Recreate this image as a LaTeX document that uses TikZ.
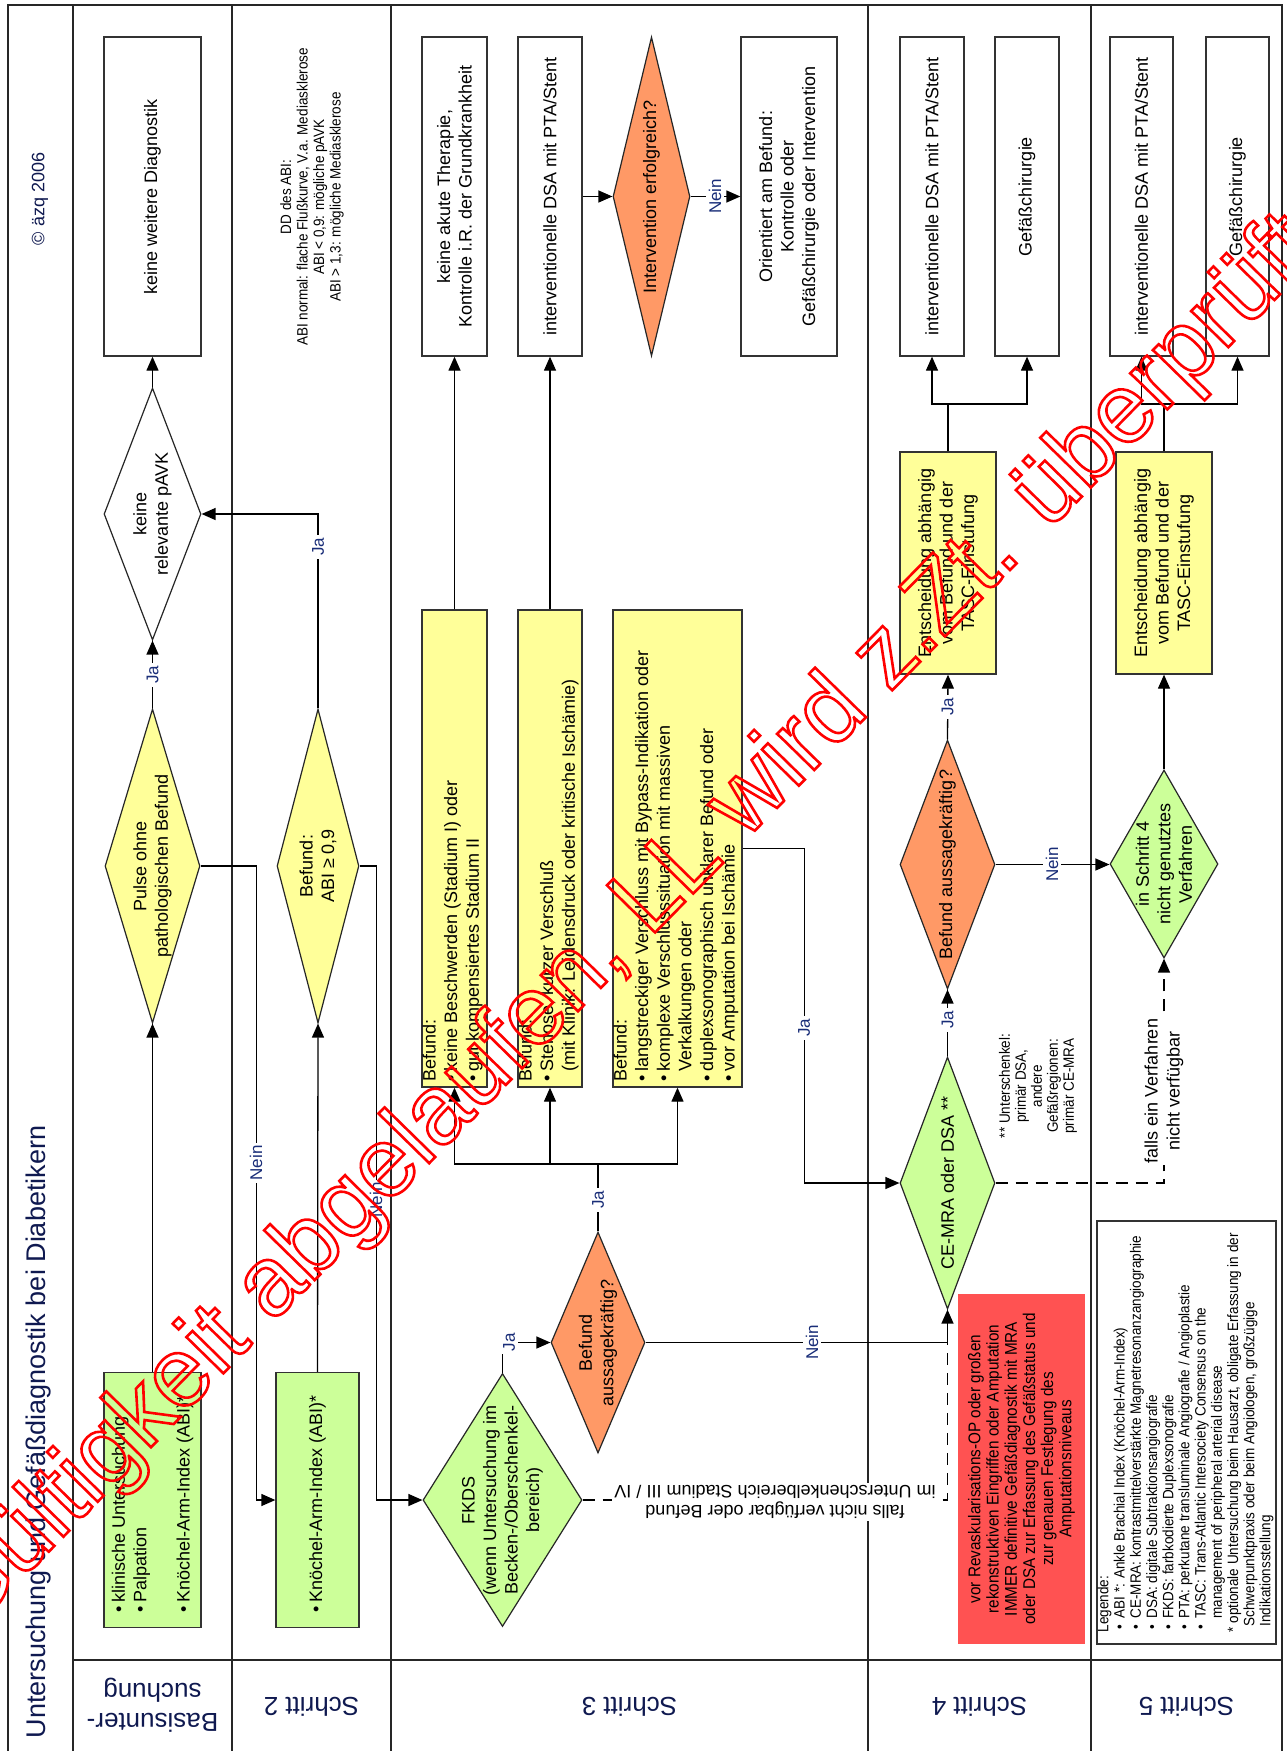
\documentclass[tikz,border=0pt]{standalone}
\usepackage{fontspec}
\setmainfont{Liberation Sans}
\newfontfamily\nar[FakeStretch=0.9]{Liberation Sans}
\usetikzlibrary{shapes.geometric,arrows.meta,calc}
\definecolor{yel}{RGB}{255,255,153}
\definecolor{grn}{RGB}{204,255,153}
\definecolor{org}{RGB}{255,153,102}
\definecolor{redb}{RGB}{255,82,82}
\definecolor{navy}{RGB}{25,45,120}
\definecolor{navytwo}{RGB}{15,25,80}
\newcommand\fsz[2]{\fontsize{#1pt}{#2pt}\selectfont}
\newcommand\bulx{\makebox[10pt][l]{\textbullet}}
\newcommand\indt{\hspace*{10pt}}
\newcommand\lbul{\hspace*{3pt}\makebox[11pt][l]{\textbullet}}
\newcommand\outl[1]{\special{pdf:literal direct 1 Tr 2.6 w}#1\special{pdf:literal direct 0 Tr}}
\begin{document}
\begin{tikzpicture}[x=1pt,y=-1pt,
 lane/.style={draw=black!85, line width=1.8pt},
 bx/.style={rectangle, draw=black!80, line width=1.3pt, inner sep=0pt, fill=white},
 dia/.style={diamond, draw=black!85, line width=1.2pt, inner sep=0pt},
 txt/.style={rotate=90, align=center, inner sep=0pt, font=\fsz{18}{21.5}},
 ltxt/.style={rotate=90, align=left, inner sep=0pt, font=\fsz{18}{21.6}},
 yn/.style={rotate=90, fill=white, inner sep=3pt, text=navy, font=\fsz{17}{20}},
 arr/.style={draw=black, line width=1.3pt, -{Triangle[length=14pt,width=12pt]}},
 con/.style={draw=black, line width=1.3pt},
 dsh/.style={con, dash pattern=on 12pt off 8pt},
 lanelab/.style={rotate=180, align=center, text=navytwo, font=\fsz{26}{30}}]
\useasboundingbox (0,0) rectangle (1287,1751);
\fill[white] (0,0) rectangle (1287,1751);
% frame and lanes
\draw[lane] (8,1751) -- (8,5) -- (1282,5) -- (1282,1751);
\foreach \x in {73,232,391,868,1091} {\draw[lane] (\x,5) -- (\x,1751);}
\draw[lane] (73,1660) -- (1282,1660);
% title column
\node[rotate=90, text=navytwo, font=\fsz{27}{30}] (title) at (39,1432) {Untersuchung und Gefäßdiagnostik bei Diabetikern};
\node[rotate=90, text=navytwo, font=\fsz{18}{21}] (copy) at (40,199) {© äzq 2006};
% lane labels
\node[lanelab] (lab1) at (152.5,1705) {Basisunter-\\suchung};
\node[lanelab] (lab2) at (311.5,1707) {Schritt 2};
\node[lanelab] (lab3) at (629.5,1707) {Schritt 3};
\node[lanelab] (lab4) at (979.5,1707) {Schritt 4};
\node[lanelab] (lab5) at (1186.5,1707) {Schritt 5};
% Basisuntersuchung
\node[bx, minimum width=97pt, minimum height=319pt] (kwd) at (152.5,196.5) {};
\node[txt] (tkwd) at (kwd) {keine weitere Diagnostik};
\node[dia, fill=white, minimum width=97pt, minimum height=252pt] (pavk) at (152.5,514) {};
\node[txt] (tpavk) at (pavk) {keine\\relevante pAVK};
\node[dia, fill=yel, minimum width=95pt, minimum height=314pt] (pulse) at (152.5,866) {};
\node[txt] (tpulse) at (pulse) {Pulse ohne\\pathologischen Befund};
\node[bx, fill=grn, minimum width=97pt, minimum height=255pt] (basis) at (152.5,1500) {};
\node[ltxt, anchor=west] (tbasis) at ($(basis.south)+(0,-15)$) {\bulx klinische Untersuchung\\\bulx Palpation\\[21.5pt]\bulx Knöchel-Arm-Index (ABI)*};
% Schritt 2
\node[rotate=90, align=center, font=\nar\fsz{15}{16.5}] (dd) at (312,197) {DD des ABI:\\ABI normal: flache Flußkurve, V.a. Mediasklerose\\ABI < 0,9: mögliche pAVK\\ABI > 1,3: mögliche Mediasklerose};
\node[dia, fill=yel, minimum width=82pt, minimum height=314pt] (abid) at (318,866) {};
\node[txt] (tabid) at (abid) {Befund:\\ABI ≥ 0,9};
\node[bx, fill=grn, minimum width=83pt, minimum height=255pt] (abib) at (317.5,1500) {};
\node[ltxt, anchor=west] (tabib) at ($(abib.south)+(0,-15)$) {\bulx Knöchel-Arm-Index (ABI)*};
% Schritt 3
\node[dia, fill=grn, minimum width=159pt, minimum height=253pt] (fkds) at (502.5,1500) {};
\node[txt] (tfkds) at (fkds) {FKDS\\(wenn Untersuchung im\\Becken-/Oberschenkel-\\bereich)};
\node[dia, fill=org, minimum width=94pt, minimum height=221pt] (ba3) at (598,1342.5) {};
\node[txt] (tba3) at (ba3) {Befund\\aussagekräftig?};
\node[bx, fill=yel, minimum width=65pt, minimum height=477pt] (yb1) at (454.5,848.5) {};
\node[ltxt, anchor=north west] (tyb1) at ($(yb1.south west)+(1,-6)$) {Befund:\\\bulx keine Beschwerden (Stadium I) oder\\\bulx gut kompensiertes Stadium II};
\node[bx, fill=yel, minimum width=64pt, minimum height=477pt] (yb2) at (550,848.5) {};
\node[ltxt, anchor=north west] (tyb2) at ($(yb2.south west)+(1,-6)$) {Befund:\\\bulx Stenose, kurzer Verschluß\\\indt(mit Klinik: Leidensdruck oder kritische Ischämie)};
\node[bx, fill=yel, minimum width=129pt, minimum height=477pt] (yb3) at (677.5,848.5) {};
\node[ltxt, anchor=north west] (tyb3) at ($(yb3.south west)+(1,-6)$) {Befund:\\\bulx langstreckiger Verschluss mit Bypass-Indikation oder\\\bulx komplexe Verschlusssituation mit massiven\\\indt Verkalkungen oder\\\bulx duplexsonographisch unklarer Befund oder\\\bulx vor Amputation bei Ischämie};
\node[bx, minimum width=65pt, minimum height=319pt] (wb1) at (454.5,196.5) {};
\node[txt] (twb1) at (wb1) {keine akute Therapie,\\Kontrolle i.R. der Grundkrankheit};
\node[bx, minimum width=64pt, minimum height=319pt] (wb2) at (550,196.5) {};
\node[txt] (twb2) at (wb2) {interventionelle DSA mit PTA/Stent};
\node[dia, fill=org, minimum width=77pt, minimum height=319pt] (ie) at (651.5,196.5) {};
\node[txt] (tie) at (ie) {Intervention erfolgreich?};
\node[bx, minimum width=96pt, minimum height=319pt] (ob) at (789,196.5) {};
\node[txt] (tob) at (ob) {Orientiert am Befund:\\Kontrolle oder\\Gefäßchirurgie oder Intervention};
% Schritt 4
\node[dia, fill=grn, minimum width=95pt, minimum height=252pt] (cemra) at (947.5,1183) {};
\node[txt] (tcemra) at (cemra) {CE-MRA oder DSA **};
\node[dia, fill=org, minimum width=95pt, minimum height=249pt] (ba4) at (947.5,864.5) {};
\node[txt] (tba4) at (ba4) {Befund aussagekräftig?};
\node[bx, fill=yel, minimum width=96pt, minimum height=222pt] (yb4) at (948,563) {};
\node[txt] (tyb4) at (yb4) {Entscheidung abhängig\\vom Befund und der\\TASC-Einstufung};
\node[bx, minimum width=64pt, minimum height=319pt] (w4a) at (932,196.5) {};
\node[txt] (tw4a) at (w4a) {interventionelle DSA mit PTA/Stent};
\node[bx, minimum width=64pt, minimum height=319pt] (w4b) at (1027,196.5) {};
\node[txt] (tw4b) at (w4b) {Gefäßchirurgie};
\node[rotate=90, align=center, font=\nar\fsz{15}{16}] (note) at (1038,1086) {** Unterschenkel:\\primär DSA,\\andere\\Gefäßregionen:\\primär CE-MRA};
\node[rectangle, fill=redb, minimum width=127pt, minimum height=350pt, inner sep=0pt] (red) at (1021.5,1469) {};
\node[rotate=90, align=center, font=\nar\fsz{17}{18.2}] (tred) at (red) {vor Revaskularisations-OP oder großen\\rekonstruktiven Eingriffen oder Amputation\\IMMER definitive Gefäßdiagnostik mit MRA\\oder DSA zur Erfassung des Gefäßstatus und\\zur genauen Festlegung des\\Amputationsniveaus};
% Schritt 5
\node[dia, fill=grn, minimum width=108pt, minimum height=188pt] (g5) at (1164,864) {};
\node[txt] (tg5) at (g5) {in Schritt 4\\nicht genutztes\\Verfahren};
\node[bx, fill=yel, minimum width=96pt, minimum height=222pt] (yb5) at (1164,563) {};
\node[txt] (tyb5) at (yb5) {Entscheidung abhängig\\vom Befund und der\\TASC-Einstufung};
\node[bx, minimum width=63pt, minimum height=319pt] (w5a) at (1141.5,196.5) {};
\node[txt] (tw5a) at (w5a) {interventionelle DSA mit PTA/Stent};
\node[bx, minimum width=63pt, minimum height=319pt] (w5b) at (1237.5,196.5) {};
\node[txt] (tw5b) at (w5b) {Gefäßchirurgie};
\node[bx, line width=1.2pt, minimum width=179pt, minimum height=423pt] (leg) at (1186.5,1432.5) {};
\node[rotate=90, anchor=north west, align=left, inner sep=0pt, font=\nar\fsz{15}{16.2}] (tleg) at ($(leg.south west)+(1,-12)$) {Legende:\\
\lbul ABI *: Ankle Brachial Index (Knöchel-Arm-Index)\\
\lbul CE-MRA: kontrastmittelverstärkte Magnetresonanzangiographie\\
\lbul DSA: digitale Subtraktionsangiografie\\
\lbul FKDS: farbkodierte Duplexsonografie\\
\lbul PTA: perkutane transluminale Angiografie / Angioplastie\\
\lbul TASC: Trans-Atlantic Intersociety Consensus on the\\
\hspace*{14pt}management of peripheral arterial disease\\
* optionale Untersuchung beim Hausarzt, obligate Erfassung in der\\
\hspace*{6pt}Schwerpunktpraxis oder beim Angiologen, großzügige\\
\hspace*{6pt}Indikationsstellung};
% connectors
\draw[arr] (basis.north) -- (pulse.south);
\draw[arr] (pulse.north) -- (pavk.south);
\node[yn] (l1) at (152.5,675) {Ja};
\draw[arr] (pavk.north) -- (kwd.south);
\draw[arr] (pulse.east) -- ++(56,0) |- (abib.west);
\node[yn] (l2) at (256,1163) {Nein};
\draw[arr] (abib.north) -- (abid.south);
\draw[arr] (abid.north) |- (pavk.east);
\node[yn] (l3) at (318,547) {Ja};
\draw[arr] (abid.east) -- ++(17,0) |- (fkds.west);
\node[yn] (l4) at (376,1200) {Nein};
\draw[arr] (fkds.north) |- (ba3.west);
\node[yn] (l5) at (509,1342.5) {Ja};
\coordinate (j3) at (598,1164);
\draw[con] (ba3.north) -- (j3);
\draw[arr] (j3) -| (yb1.south);
\draw[arr] (j3) -| (yb2.south);
\draw[arr] (j3) -| (yb3.south);
\node[yn] (l6) at (598,1200) {Ja};
\draw[arr] (yb1.north) -- (wb1.south);
\draw[arr] (yb2.north) -- (wb2.south);
\draw[arr] (wb2.east) -- (ie.west);
\draw[arr] (ie.east) -- (ob.west);
\node[yn] (l7) at (715,196.5) {Nein};
\draw[arr] (yb3.east) -- ++(62,0) |- (cemra.west);
\node[yn] (l8) at (804,1028) {Ja};
\draw[arr] (ba3.east) -| (cemra.south);
\node[yn] (l9) at (812,1342.5) {Nein};
\coordinate (j6) at (cemra.south |- ba3.east);
\draw[dsh] (fkds.east) -| (j6);
\node[rotate=180, fill=white, align=center, inner sep=2pt, font=\fsz{18}{20.5}] (fl1) at (775,1502) {falls nicht verfügbar oder Befund\\im Unterschenkelbereich Stadium III / IV};
\draw[arr] (cemra.north) -- (ba4.south);
\node[yn] (l10) at (947.5,1020) {Ja};
\draw[arr] (ba4.north) -- (yb4.south);
\node[yn] (l11) at (947.5,707) {Ja};
\coordinate (j4) at (948,404);
\draw[con] (yb4.north) -- (j4);
\draw[arr] (j4) -| (w4a.south);
\draw[arr] (j4) -| (w4b.south);
\draw[arr] (ba4.east) -- (ba4.east -| g5.west);
\node[yn] (l12) at (1052,864.5) {Nein};
\draw[arr, dash pattern=on 12pt off 8pt] (cemra.east) -| (g5.south);
\node[rotate=90, fill=white, align=center, inner sep=2pt, font=\fsz{18}{22}] (fl2) at (1164,1091) {falls ein Verfahren\\nicht verfügbar};
\draw[arr] (g5.north) -- (yb5.south);
\coordinate (j5) at (1164,404);
\draw[con] (yb5.north) -- (j5);
\draw[arr] (j5) -| (w5a.south);
\draw[arr] (j5) -| (w5b.south);
% watermark
\begin{scope}
\clip (0,0) rectangle (1287,1751);
\node[rotate=45.6, text=red, font=\fsz{98}{110}, inner sep=0pt] (wm) at (627,925) {\outl{Gültigkeit abgelaufen, LL wird z.Zt. überprüft}};
\end{scope}
\end{tikzpicture}
\end{document}
